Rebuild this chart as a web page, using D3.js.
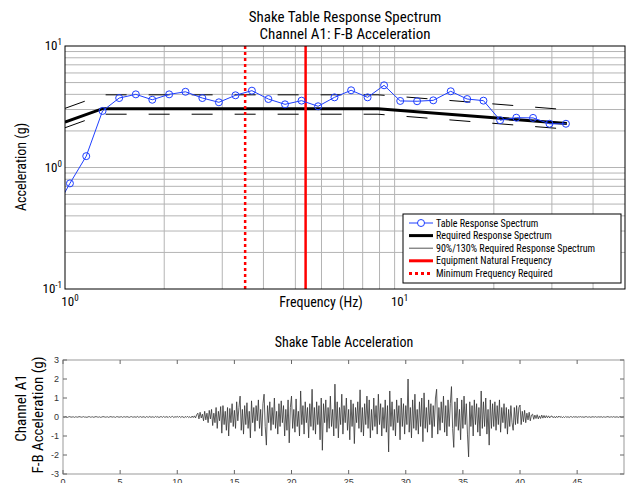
<!DOCTYPE html>
<html>
<head>
<meta charset="utf-8">
<script src="https://cdn.jsdelivr.net/npm/d3@7"></script>
<style>
  body { margin: 0; background: #fff; }
  text { font-family: "Liberation Sans Narrow", "Roboto Condensed", Roboto, sans-serif; fill: #000; }
</style>
</head>
<body>
<script>
// ---- response spectrum data ----
var freqHz = [0.92, 1.035, 1.16, 1.30, 1.46, 1.64, 1.84, 2.07, 2.32, 2.61, 2.93, 3.29, 3.69, 4.14,
              4.65, 5.22, 5.86, 6.57, 7.38, 8.28, 9.29, 10.4, 11.7, 13.1, 14.8, 16.6, 18.6,
              20.9, 23.4, 26.3, 29.5, 33.1];
var tableResp = [0.42, 0.74, 1.24, 2.92, 3.73, 4.00, 3.61, 4.00, 4.20, 3.73, 3.44, 3.93, 4.29, 3.66,
                 3.31, 3.55, 3.19, 3.78, 4.32, 3.78, 4.75, 3.53, 3.51, 3.57, 4.24, 3.66,
                 3.55, 2.45, 2.57, 2.56, 2.29, 2.29];
var rrsFreq  = [1.0, 1.3, 8.9, 33.3];
var rrsAccel = [2.36, 3.05, 3.05, 2.30];
var upperFactor = 1.3, lowerFactor = 0.9;
var equipFreq = 5.37;   // equipment natural frequency
var minFreq = 3.52;     // minimum frequency required

var xGrid = [2, 3, 4, 5, 6, 7, 8, 9, 10, 20, 30, 40];
var yGrid = [0.2, 0.3, 0.4, 0.5, 0.6, 0.7, 0.8, 0.9, 1, 2, 3, 4, 5, 6, 7, 8, 9];
var yTickExp = [1, 0, -1];
var xTickExp = [0, 1];
var legendLabels = ["Table Response Spectrum", "Required Response Spectrum",
                    "90%/130% Required Response Spectrum", "Equipment Natural Frequency",
                    "Minimum Frequency Required"];

// ---- acceleration time history, 0.1 s steps ----
var accelDt = 0.1;
var accelG = [
  0.01,-0.01,0.02,0,-0.02,0.01,0.02,-0.01,0,0.01,-0.02,0.01,0,-0.01,0.02,0.01,-0.01,0,0.02,-0.01,
  0,-0.02,0.01,0.02,-0.01,0,0.01,-0.02,0.01,0.02,0,-0.01,0.01,-0.02,0,0.02,0.01,-0.01,0,0.01,
  -0.02,0.01,0.02,-0.01,0.01,0,-0.02,0.02,0.01,-0.01,0,0.02,-0.02,0.01,0.01,-0.01,0.02,0,-0.02,0.01,
  0.02,-0.01,0,0.01,-0.02,0.03,-0.01,0,0.02,-0.02,0.01,0.01,-0.03,0.02,0,-0.01,0.03,-0.02,0.01,0,
  -0.02,0.03,-0.01,0.02,-0.03,0.01,0.02,-0.02,0.03,-0.01,0,0.02,-0.03,0.03,-0.02,0.01,0.03,-0.03,0.02,-0.01,
  0.03,-0.02,0.04,-0.03,0.02,0.01,-0.04,0.03,-0.02,0.04,-0.03,0.02,-0.04,0.05,-0.03,0.06,-0.05,0.12,0.2,-0.1,
  0.25,-0.05,0.15,-0.2,0.3,-0.15,0.2,-0.3,0.35,-0.1,0.4,-0.45,0.2,-0.3,0.5,-0.6,0.3,-0.2,0.55,-0.85,
  0.6,-0.4,0.3,-0.7,0.5,-1.0,0.45,-0.3,0.7,-0.5,0.35,-0.6,0.8,-0.2,0.5,1.1,-0.7,0.4,-0.9,0.6,
  -0.4,0.75,-0.6,0.3,-1.1,0.85,-0.3,0.5,-0.75,0.6,-0.2,0.9,-0.6,0.4,-1.0,0.7,1.2,-0.5,-1.48,0.6,
  -0.3,0.8,-0.7,0.5,-0.4,1.0,-0.6,0.3,-0.9,0.7,-0.5,0.85,-0.3,0.6,-1.0,0.4,-0.7,0.9,-1.36,0.5,
  1.1,-0.6,0.4,-0.8,0.95,-0.5,0.3,-1.0,1.37,-0.4,0.6,-0.9,0.8,-0.3,0.5,-1.1,0.7,-0.5,1.46,-0.7,
  0.5,-0.9,0.8,-0.4,0.6,-1.2,1.0,-1.75,0.7,-0.3,0.9,-0.8,0.5,-0.6,1.1,-0.5,0.4,-1.0,1.73,-0.6,
  0.8,-1.1,0.5,-0.4,1.2,-0.9,0.6,-0.3,1.0,-0.7,0.4,-1.2,0.9,-0.5,0.7,-1.4,0.5,-0.3,0.8,-0.6,
  1.43,-0.8,0.5,-1.0,0.7,-0.4,1.1,-0.6,0.9,-1.1,0.4,-0.7,1.0,-0.5,0.6,-0.9,1.2,-0.4,0.7,-1.0,
  0.5,-0.6,0.9,-0.8,0.6,-1.84,1.37,-0.5,0.8,-0.7,0.4,-1.0,0.9,-0.3,0.6,-1.2,1.0,-0.5,0.7,-0.9,
  0.6,-0.4,2.0,-0.8,0.5,-1.1,0.9,-0.6,1.2,-0.7,0.4,-0.9,0.8,-0.5,1.0,-1.3,1.27,-0.6,0.5,-0.8,
  0.9,-0.4,0.7,-1.1,0.6,-0.5,1.0,1.46,-0.9,0.5,-0.7,0.8,-0.3,1.1,-0.8,0.6,-1.0,0.9,-0.5,0.7,
  1.6,-0.6,-1.6,0.8,-0.5,1.0,-0.7,0.4,-1.2,0.9,-0.6,1.1,-0.4,0.7,-0.9,-2.1,0.8,-0.5,0.6,-1.0,
  0.9,-0.4,0.7,-0.8,0.5,-1.0,1.37,-0.6,0.8,-0.5,1.0,-0.9,0.4,-1.48,0.9,-0.6,0.7,-0.5,0.8,-0.7,
  0.6,-0.4,0.9,-0.8,0.5,-0.3,0.7,-0.6,0.5,-0.9,0.4,-0.5,0.6,-0.3,-0.7,0.5,-0.4,0.6,-0.35,0.5,
  0.63,-0.4,0.3,-0.25,0.35,-0.3,0.2,-0.15,0.25,-0.2,0.1,0.15,-0.12,0.1,-0.08,0.12,-0.1,0.06,-0.08,0.1,
  -0.06,0.08,-0.05,0.07,-0.04,0.06,-0.05,0.04,0.05,-0.04,0.03,-0.05,0.04,-0.03,0.05,-0.02,0.03,-0.04,0.02,-0.03,
  0.03,-0.02,0.02,-0.03,0.02,0.01,-0.02,0.02,-0.01,0.02,-0.02,0.01,0,0.02,-0.01,0.01,-0.02,0.01,0.02,-0.01,
  0,0.01,-0.02,0.01,0.01,-0.01,0.02,-0.01,0,0.01,-0.01,0.02,-0.02,0.01,0,-0.01,0.01,0.02,-0.01,0,
  0.01,-0.01,0.02,-0.01,0,0.01,-0.02,0.01,0.01,-0.01,0,0.01
];
var timeTicks = [0, 5, 10, 15, 20, 25, 30, 35, 40, 45];
var accelTicks = [-3, -2, -1, 0, 1, 2, 3];

var W = 629, H = 483;
var svg = d3.select("body").append("svg").attr("width", W).attr("height", H);

// ================= top: response spectrum =================
var rs = {l: 65, r: 625, t: 46, b: 289};
var x = d3.scaleLog().domain([1, 50]).range([rs.l, rs.r]);
var y = d3.scaleLog().domain([0.1, 10]).range([rs.b, rs.t]);

svg.append("clipPath").attr("id", "clipTop")
   .append("rect").attr("x", rs.l).attr("y", rs.t)
   .attr("width", rs.r - rs.l).attr("height", rs.b - rs.t);

// grid
svg.append("g").selectAll("line").data(xGrid).enter().append("line")
   .attr("x1", d => x(d)).attr("x2", d => x(d))
   .attr("y1", rs.t).attr("y2", rs.b)
   .attr("stroke", "#b4b4b4").attr("stroke-width", 1);
svg.append("g").selectAll("line").data(yGrid).enter().append("line")
   .attr("x1", rs.l).attr("x2", rs.r)
   .attr("y1", d => y(d)).attr("y2", d => y(d))
   .attr("stroke", "#b4b4b4").attr("stroke-width", 1);

var plot = svg.append("g").attr("clip-path", "url(#clipTop)");

var rrs = rrsFreq.map((f, i) => ({f: f, a: rrsAccel[i]}));
var line = k => d3.line().x(d => x(d.f)).y(d => y(d.a * k));

// 90% / 130% bounds
[upperFactor, lowerFactor].forEach(function(k) {
  plot.append("path").datum(rrs).attr("d", line(k))
      .attr("fill", "none").attr("stroke", "#000").attr("stroke-width", 1)
      .attr("stroke-dasharray", "21,22");
});
// required spectrum
plot.append("path").datum(rrs).attr("d", line(1))
    .attr("fill", "none").attr("stroke", "#000").attr("stroke-width", 3);

// vertical frequency markers
plot.append("line").attr("x1", x(minFreq)).attr("x2", x(minFreq))
    .attr("y1", rs.t).attr("y2", rs.b)
    .attr("stroke", "#ff0000").attr("stroke-width", 2.5).attr("stroke-dasharray", "3,3");
plot.append("line").attr("x1", x(equipFreq)).attr("x2", x(equipFreq))
    .attr("y1", rs.t).attr("y2", rs.b)
    .attr("stroke", "#ff0000").attr("stroke-width", 2.5);

// table response spectrum
var trs = freqHz.map((f, i) => ({f: f, a: tableResp[i]}));
plot.append("path").datum(trs).attr("d", line(1))
    .attr("fill", "none").attr("stroke", "#1f3fff").attr("stroke-width", 1);
plot.selectAll("circle.trs").data(trs).enter().append("circle")
    .attr("class", "trs")
    .attr("cx", d => x(d.f)).attr("cy", d => y(d.a)).attr("r", 3.5)
    .attr("fill", "none").attr("stroke", "#1f3fff").attr("stroke-width", 1);

// frame
svg.append("rect").attr("x", rs.l).attr("y", rs.t)
   .attr("width", rs.r - rs.l).attr("height", rs.b - rs.t)
   .attr("fill", "none").attr("stroke", "#000").attr("stroke-width", 1);

// tick labels (powers of ten)
function powLabel(sel) {
  sel.text("10").append("tspan").attr("dy", -5).attr("font-size", 9).text(d => d);
}
svg.append("g").selectAll("text").data(yTickExp).enter().append("text")
   .attr("x", 62).attr("y", d => y(Math.pow(10, d)) + 4)
   .attr("text-anchor", "end").attr("font-size", 13)
   .call(powLabel);
svg.append("g").selectAll("text").data(xTickExp).enter().append("text")
   .attr("x", d => x(Math.pow(10, d)) + 5).attr("y", 306)
   .attr("text-anchor", "middle").attr("font-size", 13)
   .call(powLabel);

// titles
svg.append("text").attr("x", 345).attr("y", 22).attr("text-anchor", "middle")
   .attr("font-size", 15).text("Shake Table Response Spectrum");
svg.append("text").attr("x", 345).attr("y", 39).attr("text-anchor", "middle")
   .attr("font-size", 15).text("Channel A1: F-B Acceleration");
svg.append("text").attr("x", 321).attr("y", 307).attr("text-anchor", "middle")
   .attr("font-size", 14).text("Frequency (Hz)");
svg.append("text").attr("transform", "translate(26,167) rotate(-90)")
   .attr("text-anchor", "middle").attr("font-size", 14).text("Acceleration (g)");

// legend
var leg = svg.append("g").attr("transform", "translate(403,214)");
leg.append("rect").attr("width", 218).attr("height", 69)
   .attr("fill", "#fff").attr("stroke", "#000").attr("stroke-width", 1);
var legStyle = [
  {c: "#1f3fff", w: 1, dash: null, marker: true},
  {c: "#000", w: 3, dash: null},
  {c: "#555", w: 1, dash: null},
  {c: "#ff0000", w: 3, dash: null},
  {c: "#ff0000", w: 3, dash: "3,3"}
];
var rows = leg.selectAll("g").data(legendLabels).enter().append("g")
   .attr("transform", (d, i) => "translate(0," + (9 + i * 12.6) + ")");
rows.append("line").attr("x1", 6).attr("x2", 30).attr("y1", 0).attr("y2", 0)
   .attr("stroke", (d, i) => legStyle[i].c).attr("stroke-width", (d, i) => legStyle[i].w)
   .attr("stroke-dasharray", (d, i) => legStyle[i].dash);
rows.filter((d, i) => legStyle[i].marker).append("circle")
   .attr("cx", 18).attr("cy", 0).attr("r", 3.5)
   .attr("fill", "#fff").attr("stroke", "#1f3fff");
rows.append("text").attr("x", 33).attr("y", 3.5).attr("font-size", 10).text(d => d);

// ================= bottom: acceleration time history =================
var bot = {l: 63, r: 624, t: 360, b: 474};
var tx = d3.scaleLinear().domain([0, 49.1]).range([bot.l, bot.r]);
var ay = d3.scaleLinear().domain([-3, 3]).range([bot.b, bot.t]);

svg.append("text").attr("x", 344).attr("y", 347).attr("text-anchor", "middle")
   .attr("font-size", 14).text("Shake Table Acceleration");

svg.append("path").datum(accelG)
   .attr("d", d3.line().x((d, i) => tx(i * accelDt)).y(d => ay(d)))
   .attr("fill", "none").attr("stroke", "#333").attr("stroke-width", 0.8);

svg.append("rect").attr("x", bot.l).attr("y", bot.t)
   .attr("width", bot.r - bot.l).attr("height", bot.b - bot.t)
   .attr("fill", "none").attr("stroke", "#999").attr("stroke-width", 1);

var ticks = svg.append("g").attr("stroke", "#666").attr("stroke-width", 1);
timeTicks.forEach(function(t) {
  ticks.append("line").attr("x1", tx(t)).attr("x2", tx(t)).attr("y1", bot.t).attr("y2", bot.t + 4);
  ticks.append("line").attr("x1", tx(t)).attr("x2", tx(t)).attr("y1", bot.b).attr("y2", bot.b - 4);
});
accelTicks.forEach(function(v) {
  ticks.append("line").attr("x1", bot.l).attr("x2", bot.l + 4).attr("y1", ay(v)).attr("y2", ay(v));
  ticks.append("line").attr("x1", bot.r).attr("x2", bot.r - 4).attr("y1", ay(v)).attr("y2", ay(v));
});

svg.append("g").selectAll("text").data(accelTicks).enter().append("text")
   .attr("x", 59).attr("y", d => ay(d) + 3).attr("text-anchor", "end")
   .attr("font-size", 9).style("font-family", "Liberation Sans, Arial, sans-serif")
   .style("fill", "#333").text(d => d);
svg.append("g").selectAll("text").data(timeTicks).enter().append("text")
   .attr("x", d => tx(d)).attr("y", 485).attr("text-anchor", "middle")
   .attr("font-size", 9).style("font-family", "Liberation Sans, Arial, sans-serif")
   .style("fill", "#333").text(d => d);

svg.append("text").attr("transform", "translate(26,408) rotate(-90)")
   .attr("text-anchor", "middle").attr("font-size", 15).text("Channel A1");
svg.append("text").attr("transform", "translate(43,415) rotate(-90)")
   .attr("text-anchor", "middle").attr("font-size", 15).text("F-B Acceleration (g)");
</script>
</body>
</html>
